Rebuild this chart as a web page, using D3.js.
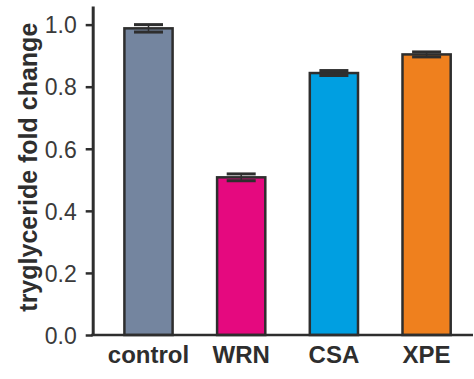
<!DOCTYPE html>
<html>
<head>
<meta charset="utf-8">
<script src="https://cdn.jsdelivr.net/npm/d3@7"></script>
<style>
  html, body { margin: 0; padding: 0; background: #fff; }
  svg { display: block; }
</style>
</head>
<body>
<svg id="chart" width="474" height="379"></svg>
<script>
// Triglyceride fold change per condition (mean ± error)
const categories = ["control", "WRN", "CSA", "XPE"];
const values = [0.988, 0.508, 0.844, 0.904];
const errors = [0.012, 0.011, 0.008, 0.008];
const colors = ["#74859f", "#e5097f", "#009fe1", "#ef801e"];
const yTicks = [0, 0.2, 0.4, 0.6, 0.8, 1.0];
const yLabel = "tryglyceride fold change";

const svg = d3.select("#chart");
const ink = "#2e2e2e";
const font = "'Liberation Sans', Arial, Helvetica, sans-serif";

const x0 = 92.7, yBase = 335, yTop = 6;

const x = d3.scaleBand()
  .domain(categories)
  .range([x0, 482.4])
  .paddingInner(0.48)
  .paddingOuter(0.342);

const y = d3.scaleLinear()
  .domain([0, 1.06])
  .range([yBase, yTop]);

// Y axis
const yAxis = svg.append("g")
  .attr("transform", `translate(${x0},0)`)
  .call(d3.axisLeft(y).tickValues(yTicks).tickFormat(d3.format(".1f"))
    .tickSize(7).tickPadding(9).tickSizeOuter(0));
yAxis.select(".domain").attr("stroke", ink).attr("stroke-width", 3);
yAxis.selectAll(".tick line").attr("stroke", ink).attr("stroke-width", 2.5);
yAxis.selectAll(".tick text")
  .attr("fill", "#3a3a3a")
  .attr("font-family", font)
  .attr("font-size", 23)
  .attr("dy", "0.36em");

// Bars
svg.append("g").selectAll("rect")
  .data(categories)
  .join("rect")
  .attr("x", d => x(d))
  .attr("y", (d, i) => y(values[i]))
  .attr("width", x.bandwidth())
  .attr("height", (d, i) => y(0) - y(values[i]))
  .attr("fill", (d, i) => colors[i])
  .attr("stroke", ink)
  .attr("stroke-width", 2.5);

// Error bars
const capHalf = 14.5;
const eb = svg.append("g").selectAll("g")
  .data(categories)
  .join("g");
eb.append("line")
  .attr("x1", d => x(d) + x.bandwidth() / 2)
  .attr("x2", d => x(d) + x.bandwidth() / 2)
  .attr("y1", (d, i) => y(values[i] + errors[i]))
  .attr("y2", (d, i) => y(values[i] - errors[i]))
  .attr("stroke", ink).attr("stroke-width", 1.5);
eb.append("line")
  .attr("x1", d => x(d) + x.bandwidth() / 2 - capHalf)
  .attr("x2", d => x(d) + x.bandwidth() / 2 + capHalf)
  .attr("y1", (d, i) => y(values[i] + errors[i]))
  .attr("y2", (d, i) => y(values[i] + errors[i]))
  .attr("stroke", ink).attr("stroke-width", 3);
eb.append("line")
  .attr("x1", d => x(d) + x.bandwidth() / 2 - capHalf)
  .attr("x2", d => x(d) + x.bandwidth() / 2 + capHalf)
  .attr("y1", (d, i) => y(values[i] - errors[i]))
  .attr("y2", (d, i) => y(values[i] - errors[i]))
  .attr("stroke", ink).attr("stroke-width", 3);

// X axis
const xAxis = svg.append("g")
  .attr("transform", `translate(0,${yBase})`)
  .call(d3.axisBottom(x).tickSize(0).tickPadding(11).tickSizeOuter(0));
xAxis.select(".domain").remove();
xAxis.append("line")
  .attr("x1", x0 - 1.5).attr("x2", 473)
  .attr("y1", 0).attr("y2", 0)
  .attr("stroke", ink).attr("stroke-width", 2.5);
xAxis.selectAll(".tick text")
  .attr("fill", ink)
  .attr("font-family", font)
  .attr("font-size", 24)
  .attr("font-weight", "bold");

// Y axis title
svg.append("text")
  .attr("transform", `translate(37,${(22.7 + 311.7) / 2}) rotate(-90)`)
  .attr("text-anchor", "middle")
  .attr("fill", ink)
  .attr("font-family", font)
  .attr("font-size", 25)
  .attr("font-weight", "bold")
  .text(yLabel);
</script>
</body>
</html>
